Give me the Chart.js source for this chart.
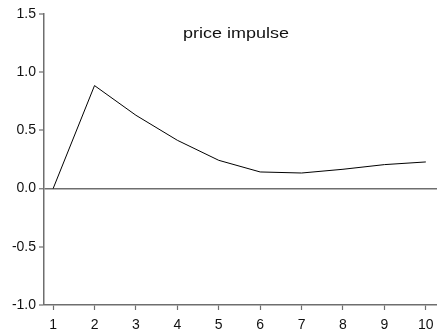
<!DOCTYPE html>
<html>
<head>
<meta charset="utf-8">
<script src="https://cdn.jsdelivr.net/npm/chart.js@4/dist/chart.umd.min.js"></script>
<style>
  html, body { margin: 0; padding: 0; background: #fff; }
  #wrap { width: 437px; height: 333px; }
</style>
</head>
<body>
<div id="wrap"><canvas id="c" width="437" height="333"></canvas></div>
<script>
// Impulse response of price over ten periods
const periods = [1, 2, 3, 4, 5, 6, 7, 8, 9, 10];
const response = [0.0, 0.885, 0.63, 0.415, 0.243, 0.143, 0.134, 0.166, 0.206, 0.229];
const yTickValues = [-1.0, -0.5, 0.0, 0.5, 1.0, 1.5];
const chartTitle = 'price impulse';

const axisGray = '#6e6e6e';
const fontFamily = '"Liberation Sans", Arial, sans-serif';

const titlePlugin = {
  id: 'innerTitle',
  afterDraw(chart) {
    const ctx = chart.ctx;
    ctx.save();
    ctx.font = '15px ' + fontFamily;
    ctx.fillStyle = '#111';
    ctx.textAlign = 'center';
    ctx.textBaseline = 'alphabetic';
    ctx.translate(236, 38);
    ctx.scale(1.2, 1);
    ctx.fillText(chartTitle, 0, 0);
    ctx.restore();
  }
};

new Chart(document.getElementById('c'), {
  type: 'line',
  data: {
    datasets: [{
      data: periods.map((p, i) => ({ x: p, y: response[i] })),
      borderColor: '#000',
      borderWidth: 1,
      pointRadius: 0,
      tension: 0,
      fill: false
    }]
  },
  options: {
    responsive: false,
    animation: false,
    devicePixelRatio: 1,
    layout: { padding: { top: 14, right: 0, left: 0, bottom: 0 } },
    plugins: { legend: { display: false }, tooltip: { enabled: false } },
    scales: {
      x: {
        type: 'linear',
        min: 0.78,
        max: 10.27,
        afterBuildTicks(scale) { scale.ticks = periods.map(v => ({ value: v })); },
        afterFit(scale) {
          scale.height = 28;
          scale.paddingLeft = 0;
          scale.paddingRight = 0;
        },
        border: { color: axisGray, width: 1.5 },
        grid: { drawOnChartArea: false, tickLength: 5, tickColor: axisGray, tickWidth: 1.2 },
        ticks: {
          color: '#111',
          padding: 7,
          maxRotation: 0,
          font: { family: fontFamily, size: 14 },
          callback: v => String(v)
        }
      },
      y: {
        min: -1,
        max: 1.5,
        afterBuildTicks(scale) { scale.ticks = yTickValues.map(v => ({ value: v })); },
        afterFit(scale) {
          scale.width = 44;
          scale.paddingTop = 0;
          scale.paddingBottom = 0;
        },
        border: { color: axisGray, width: 1.5 },
        grid: {
          drawOnChartArea: true,
          color: c => (c.tick && c.tick.value === 0 ? axisGray : 'rgba(0,0,0,0)'),
          lineWidth: c => (c.tick && c.tick.value === 0 ? 1.5 : 0),
          tickLength: 5,
          tickColor: axisGray,
          tickWidth: 1.2
        },
        ticks: {
          color: '#111',
          padding: 3,
          font: { family: fontFamily, size: 14 },
          callback: v => Number(v).toFixed(1)
        }
      }
    }
  },
  plugins: [titlePlugin]
});
</script>
</body>
</html>
